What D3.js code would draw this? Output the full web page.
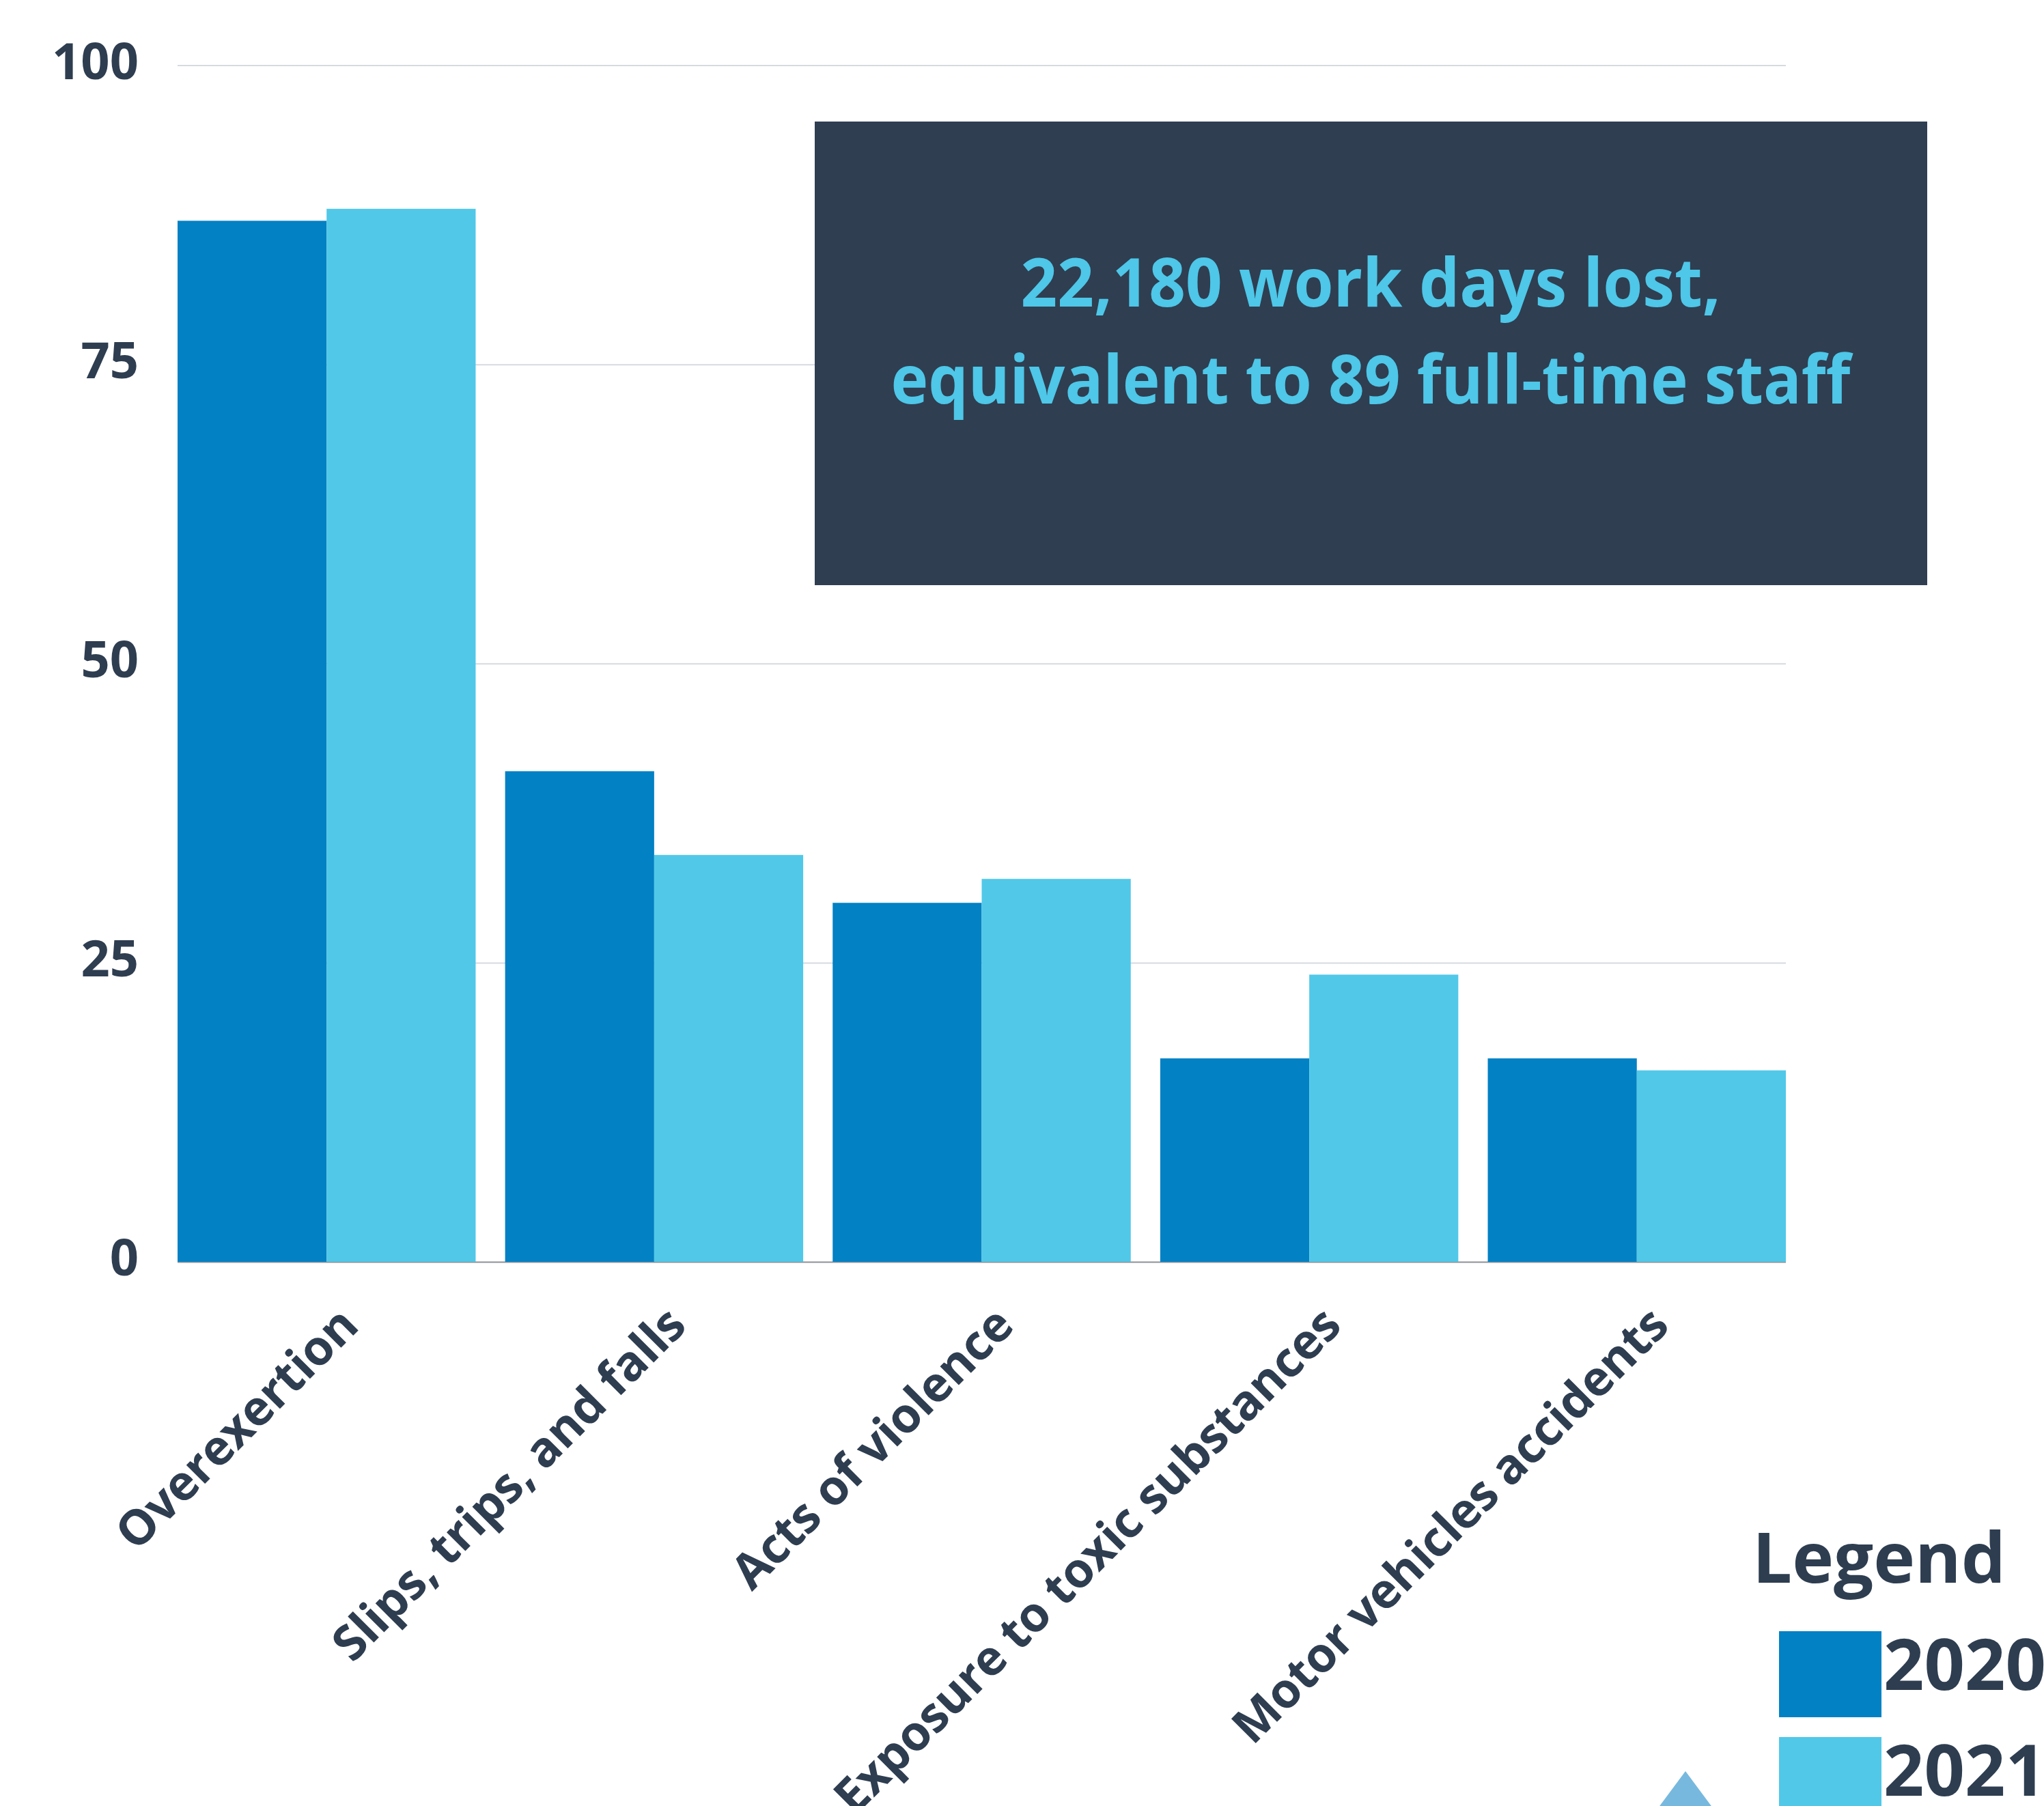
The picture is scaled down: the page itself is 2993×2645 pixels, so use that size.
<!DOCTYPE html>
<meta charset="utf-8">

<style type="text/css">
body { margin: 0; background: #fff; }

.grid line { stroke: #d6dadf; stroke-width: 2; }
.grid .domain { display: none; }
.grid text {
  fill: #2e3d50;
  font-family: "Open Sans", sans-serif;
  font-weight: 700;
  font-size: 74px;
}

.xlabel {
  fill: #2e3d50;
  font-family: "Open Sans", sans-serif;
  font-weight: 700;
  font-size: 71px;
  letter-spacing: -0.5px;
}

.note text {
  fill: #4ec7e8;
  font-family: "Open Sans", sans-serif;
  font-weight: 700;
  font-size: 98px;
}

.legend text {
  fill: #2e3d50;
  font-family: "Open Sans", sans-serif;
  font-weight: 700;
}
</style>

<body>
<script src="https://d3js.org/d3.v7.min.js"></script>
<script>

// data
var categories = ["Overexertion", "Slips, trips, and falls", "Acts of violence",
                  "Exposure to toxic substances", "Motor vehicles accidents"];
var years = ["2020", "2021"];
var values2020 = [87, 41, 30, 17, 17];
var values2021 = [88, 34, 32, 24, 16];
var yTicks = [0, 25, 50, 75, 100];
var noteLines = ["22,180 work days lost,", "equivalent to 89 full-time staff"];

var colors = {"2020": "#0281c4", "2021": "#51c8e8"};

var W = 2993, H = 2645;
var plot = {left: 260, right: 2615, top: 95.5, bottom: 1848};

var svg = d3.select("body").append("svg")
    .attr("width", W)
    .attr("height", H);

// scales
var x0 = d3.scaleBand()
    .domain(categories)
    .range([plot.left, plot.right])
    .paddingInner(0.09)
    .paddingOuter(0);

var x1 = d3.scaleBand()
    .domain(years)
    .range([0, x0.bandwidth()]);

var y = d3.scaleLinear()
    .domain([0, 100])
    .range([plot.bottom, plot.top]);

// gridlines + y tick labels
var grid = svg.append("g")
    .attr("class", "grid")
    .attr("transform", "translate(" + plot.left + ",0)")
    .call(d3.axisLeft(y)
        .tickValues(yTicks)
        .tickSize(-(plot.right - plot.left))
        .tickPadding(57));

grid.selectAll("text").attr("dy", "0.27em");
grid.selectAll(".tick")
    .filter(function(d) { return d === 0; })
    .select("line")
    .style("stroke", "#8d9198");

// bars
var rows = categories.map(function(c, i) {
  return {cat: c, vals: [{year: "2020", v: values2020[i]}, {year: "2021", v: values2021[i]}]};
});

var groups = svg.append("g").selectAll("g")
    .data(rows)
    .join("g")
    .attr("transform", function(d) { return "translate(" + x0(d.cat) + ",0)"; });

groups.selectAll("rect")
    .data(function(d) { return d.vals; })
    .join("rect")
    .attr("x", function(d) { return x1(d.year); })
    .attr("y", function(d) { return y(d.v); })
    .attr("width", x1.bandwidth())
    .attr("height", function(d) { return y(0) - y(d.v); })
    .attr("fill", function(d) { return colors[d.year]; });

// category labels, rotated
svg.append("g").selectAll("text")
    .data(categories)
    .join("text")
    .attr("class", "xlabel")
    .attr("text-anchor", "end")
    .attr("transform", function(d) {
      var cx = x0(d) + x0.bandwidth() / 2 + 50;
      return "translate(" + cx + "," + (plot.bottom + 97) + ") rotate(-45)";
    })
    .text(function(d) { return d; });

// annotation box
var note = svg.append("g").attr("class", "note");
note.append("rect")
    .attr("x", 1193).attr("y", 178)
    .attr("width", 1629).attr("height", 679)
    .attr("fill", "#2f3e51");

var noteWidths = [1025, 1405];
note.selectAll("text")
    .data(noteLines)
    .join("text")
    .attr("x", 2007)
    .attr("y", function(d, i) { return 449 + i * 142; })
    .attr("text-anchor", "middle")
    .attr("textLength", function(d, i) { return noteWidths[i]; })
    .attr("lengthAdjust", "spacingAndGlyphs")
    .text(function(d) { return d; });

// legend
var legend = svg.append("g").attr("class", "legend");
legend.append("text")
    .attr("x", 2566).attr("y", 2318)
    .style("font-size", "103px")
    .text("Legend");

var items = legend.selectAll("g.item")
    .data(years)
    .join("g")
    .attr("class", "item")
    .attr("transform", function(d, i) { return "translate(2605," + (2389 + i * 155) + ")"; });

items.append("rect")
    .attr("width", 150).attr("height", 126)
    .attr("fill", function(d) { return colors[d]; });

items.append("text")
    .attr("x", 153).attr("y", 86)
    .style("font-size", "104px")
    .text(function(d) { return d; });

// little triangle peeking in at the bottom
svg.append("path")
    .attr("d", d3.line()([[2468, 2594], [2520, 2664], [2416, 2664]]) + "Z")
    .attr("fill", "#77b9de");

</script>
</body>
